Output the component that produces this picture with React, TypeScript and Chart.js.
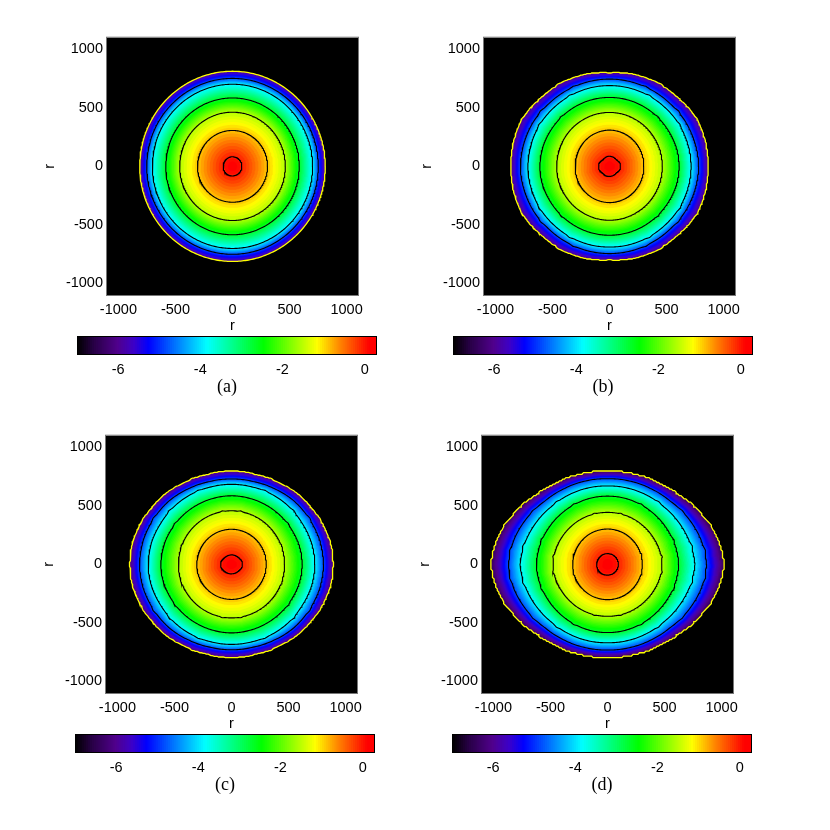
import React, { useEffect, useRef } from "react";
import { Chart, registerables } from "chart.js";

Chart.register(...registerables);

const axisTicks = [-1000, -500, 0, 500, 1000];
const colorbarTicks = [-6, -4, -2, 0];
const captions = ["(a)", "(b)", "(c)", "(d)"];
const contourLevels = [0, -0.85, -1.5, -2.65, -3.85, -4.8];
const edgeLevels = [-5.9, -6.0, -6.1, -6.4];
const centreValue = 0.3;
const sampleAngles = [0, 15, 30, 45, 60, 75, 90];

const radiiA = [
  [82, 82, 82, 82, 82, 82, 82],
  [307, 307, 307, 307, 307, 307, 307],
  [463, 463, 463, 463, 463, 463, 463],
  [585, 585, 585, 585, 585, 585, 585],
  [702, 702, 702, 702, 702, 702, 702],
  [752, 752, 752, 752, 752, 752, 752],
  [813, 813, 813, 813, 813, 813, 813],
];
const radiiB = [
  [94, 97, 88, 82, 84, 86, 86],
  [301, 302, 304, 306, 308, 309, 310],
  [463, 463, 462, 462, 461, 461, 461],
  [611, 607, 600, 595, 592, 590, 589],
  [716, 712, 708, 700, 695, 692, 690],
  [782, 775, 768, 755, 750, 747, 746],
  [864, 868, 862, 838, 828, 815, 800],
];
const radiiC = [
  [94, 96, 88, 84, 82, 81, 81],
  [305, 304, 303, 302, 301, 300, 300],
  [465, 465, 463, 461, 459, 458, 458],
  [620, 615, 605, 597, 590, 586, 586],
  [731, 725, 712, 705, 695, 686, 684],
  [807, 800, 785, 770, 748, 733, 730],
  [892, 885, 858, 838, 812, 798, 798],
];
const radiiD = [
  [96, 95, 94, 93, 93, 92, 92],
  [305, 305, 304, 303, 303, 302, 302],
  [477, 472, 462, 455, 450, 446, 444],
  [624, 615, 603, 594, 588, 585, 583],
  [767, 745, 720, 697, 684, 675, 670],
  [869, 845, 808, 770, 750, 738, 732],
  [1023, 985, 920, 860, 825, 805, 797],
];
const panelRadii = [radiiA, radiiB, radiiC, radiiD];

// [contour row, angle in degrees, radial kink]
const kinksA: number[][] = [];
const kinksB = [
  [6, 27, 8], [6, 58, 6], [5, 38, 8], [5, 65, 6], [4, 30, 7], [4, 60, 8], [3, 45, 7],
];
const kinksC = [
  [6, 27, 6], [6, 65, 5], [5, 30, 8], [4, 40, 8], [4, 65, 6], [3, 35, 7], [2, 20, 5], [2, 80, 6],
];
const kinksD = [
  [5, 8, 10], [5, 35, 6], [4, 12, 10], [4, 50, 7], [3, 20, 8], [3, 60, 7], [2, 8, 10], [2, 75, 6], [1, 15, 8],
];
const panelKinks = [kinksA, kinksB, kinksC, kinksD];
const edgeGrid = [0, 6, 6, 14];

const colorValues = [-7, -6.6, -6.03, -5.63, -5.27, -3.85, -2.47, -1.17, -0.6, 0.1, 0.3];
const colorReds = [0, 40, 80, 60, 0, 0, 0, 255, 255, 255, 255];
const colorGreens = [0, 0, 0, 0, 0, 255, 255, 255, 130, 0, 0];
const colorBlues = [0, 70, 140, 200, 255, 255, 0, 0, 0, 0, 0];

const plots = [
  { l: 107, r: 358, t: 37, b: 295, cl: 77, cr: 377, ct: 336, cb: 355 },
  { l: 484, r: 735, t: 37, b: 295, cl: 453, cr: 753, ct: 336, cb: 355 },
  { l: 106, r: 357, t: 435, b: 693, cl: 75, cr: 375, ct: 734, cb: 753 },
  { l: 482, r: 733, t: 435, b: 693, cl: 452, cr: 752, ct: 734, cb: 753 },
];

const sansFont = "'Liberation Sans', Arial, sans-serif";
const serifFont = "'Liberation Serif', serif";

function lerp(xs: number[], ys: number[], x: number) {
  if (x <= xs[0]) return ys[0];
  for (let i = 1; i < xs.length; i++) {
    if (x <= xs[i]) {
      const t = (x - xs[i - 1]) / (xs[i] - xs[i - 1]);
      return ys[i - 1] + t * (ys[i] - ys[i - 1]);
    }
  }
  return ys[ys.length - 1];
}

function colorAt(v: number) {
  const r = Math.round(lerp(colorValues, colorReds, v));
  const g = Math.round(lerp(colorValues, colorGreens, v));
  const b = Math.round(lerp(colorValues, colorBlues, v));
  return `rgb(${r},${g},${b})`;
}

function foldAngle(deg: number) {
  const d = ((deg % 360) + 360) % 360;
  if (d <= 90) return d;
  if (d <= 180) return 180 - d;
  if (d <= 270) return d - 180;
  return 360 - d;
}

function radiusAt(index: number, value: number, deg: number) {
  const a = foldAngle(deg);
  const table = panelRadii[index];
  const kinks = panelKinks[index];
  const vs = [centreValue, ...contourLevels, edgeLevels[index]].map((v) => -v);
  const rs = [
    0,
    ...table.map((row, rowIndex) => {
      let r = lerp(sampleAngles, row, a);
      for (const [kr, ka, kd] of kinks) {
        if (kr === rowIndex && Math.abs(a - ka) < 3) r += kd * (1 - Math.abs(a - ka) / 3);
      }
      return r;
    }),
  ];
  return lerp(vs, rs, -value);
}

function ring(index: number, value: number, step: number, grid = 0) {
  const pts: { x: number; y: number }[] = [];
  for (let d = 0; d <= 360; d += step) {
    const r = radiusAt(index, value, d);
    let x = r * Math.cos((d * Math.PI) / 180);
    let y = r * Math.sin((d * Math.PI) / 180);
    if (grid > 0) {
      x = Math.round(x / grid) * grid;
      y = Math.round(y / grid) * grid;
    }
    pts.push({ x, y });
  }
  return pts;
}

function panelDatasets(index: number) {
  const sets: any[] = [];
  const edge = edgeLevels[index];
  for (const level of [...contourLevels, edge]) {
    const outer = level === edge;
    sets.push({
      data: ring(index, level, 1, outer ? edgeGrid[index] : 0),
      showLine: true,
      fill: false,
      borderColor: outer ? "#ffff00" : "#000000",
      borderWidth: outer ? 1.3 : 1.1,
      pointRadius: 0,
      tension: 0,
    });
  }
  for (let v = 0.25; v > edge; v -= 0.1) {
    const color = colorAt(v);
    sets.push({
      data: ring(index, v, 2),
      showLine: true,
      fill: "shape",
      backgroundColor: color,
      borderColor: color,
      borderWidth: 0,
      pointRadius: 0,
      tension: 0,
    });
  }
  sets.push({
    data: ring(index, edge, 2),
    showLine: true,
    fill: "shape",
    backgroundColor: colorAt(edge),
    borderColor: colorAt(edge),
    borderWidth: 0,
    pointRadius: 0,
    tension: 0,
  });
  return sets;
}

function colorbarDatasets() {
  const sets: any[] = [];
  for (let i = 0; i < 146; i++) {
    const a = -7 + i * 0.05;
    sets.push({
      data: [[a, a + 0.055]],
      backgroundColor: colorAt(a + 0.025),
      borderWidth: 0,
      grouped: false,
      barPercentage: 1,
      categoryPercentage: 1,
    });
  }
  return sets;
}

const plotFrame = {
  id: "plotFrame",
  beforeDraw(chart: any) {
    const { ctx, chartArea: c } = chart;
    ctx.save();
    ctx.fillStyle = "#000";
    ctx.fillRect(c.left, c.top, c.right - c.left, c.bottom - c.top);
    ctx.strokeStyle = "#777";
    ctx.lineWidth = 1;
    ctx.strokeRect(c.left - 0.5, c.top - 0.5, c.right - c.left + 1, c.bottom - c.top + 1);
    ctx.restore();
  },
};

const barFrame = {
  id: "barFrame",
  afterDraw(chart: any) {
    const { ctx, chartArea: c } = chart;
    ctx.save();
    ctx.strokeStyle = "#000";
    ctx.lineWidth = 1;
    ctx.strokeRect(c.left + 0.5, c.top + 0.5, c.right - c.left - 1, c.bottom - c.top - 1);
    ctx.restore();
  },
};

const Y_AXIS_W = 66;
const X_AXIS_H = 40;
const PAD_T = 12;
const PAD_R = 20;
const BAR_PAD = 16;
const BAR_AXIS_H = 43;

function ticksOf(values: number[]) {
  return (scale: any) => {
    scale.ticks = values.map((value) => ({ value }));
  };
}

export default function App() {
  const panelRefs = useRef<(HTMLCanvasElement | null)[]>([]);
  const barRefs = useRef<(HTMLCanvasElement | null)[]>([]);

  useEffect(() => {
    const charts: Chart[] = [];
    plots.forEach((_, i) => {
      const tickFont = { family: sansFont, size: 14.5 };
      charts.push(
        new Chart(panelRefs.current[i]!, {
          type: "scatter",
          data: { datasets: panelDatasets(i) },
          plugins: [plotFrame],
          options: {
            animation: false,
            responsive: false,
            layout: { padding: { top: PAD_T, right: PAD_R, left: 0, bottom: 0 } },
            plugins: { legend: { display: false }, tooltip: { enabled: false } },
            scales: {
              x: {
                type: "linear",
                min: -1100,
                max: 1100,
                afterBuildTicks: ticksOf(axisTicks),
                afterFit: (s: any) => {
                  s.height = X_AXIS_H;
                },
                grid: { display: false, drawTicks: false },
                border: { display: false },
                ticks: {
                  padding: 6,
                  maxRotation: 0,
                  autoSkip: false,
                  color: "#000",
                  font: tickFont,
                  callback: (v: any) => String(v),
                },
                title: { display: true, text: "r", color: "#000", font: tickFont, padding: 0 },
              },
              y: {
                type: "linear",
                min: -1100,
                max: 1100,
                afterBuildTicks: ticksOf(axisTicks),
                afterFit: (s: any) => {
                  s.width = Y_AXIS_W;
                },
                grid: { display: false, drawTicks: false },
                border: { display: false },
                ticks: {
                  padding: 4,
                  autoSkip: false,
                  color: "#000",
                  font: tickFont,
                  callback: (v: any) => String(v),
                },
                title: { display: true, text: "r", color: "#000", font: tickFont, padding: 0 },
              },
            },
          },
        } as any)
      );
      charts.push(
        new Chart(barRefs.current[i]!, {
          type: "bar",
          data: { labels: [""], datasets: colorbarDatasets() },
          plugins: [barFrame],
          options: {
            indexAxis: "y",
            animation: false,
            responsive: false,
            layout: { padding: { top: 2, left: BAR_PAD, right: BAR_PAD, bottom: 0 } },
            plugins: { legend: { display: false }, tooltip: { enabled: false } },
            scales: {
              y: { display: false, grid: { display: false } },
              x: {
                type: "linear",
                min: -7,
                max: 0.3,
                afterBuildTicks: ticksOf(colorbarTicks),
                afterFit: (s: any) => {
                  s.height = BAR_AXIS_H;
                },
                grid: { display: false, drawTicks: false },
                border: { display: false },
                ticks: {
                  padding: 6,
                  maxRotation: 0,
                  autoSkip: false,
                  color: "#000",
                  font: tickFont,
                  callback: (v: any) => String(v),
                },
                title: {
                  display: true,
                  text: captions[i],
                  color: "#000",
                  font: { family: serifFont, size: 18 },
                  padding: 0,
                },
              },
            },
          },
        } as any)
      );
    });
    return () => charts.forEach((c) => c.destroy());
  }, []);

  return (
    <div style={{ position: "absolute", left: 0, top: 0, width: 830, height: 830, overflow: "hidden", background: "#fff" }}>
      {plots.map((p, i) => (
        <React.Fragment key={i}>
          <canvas
            ref={(el) => {
              panelRefs.current[i] = el;
            }}
            width={Y_AXIS_W + (p.r - p.l) + PAD_R}
            height={PAD_T + (p.b - p.t) + X_AXIS_H}
            style={{ position: "absolute", left: p.l - Y_AXIS_W, top: p.t - PAD_T }}
          />
          <canvas
            ref={(el) => {
              barRefs.current[i] = el;
            }}
            width={p.cr - p.cl + 2 * BAR_PAD}
            height={p.cb - p.ct + 2 + BAR_AXIS_H}
            style={{ position: "absolute", left: p.cl - BAR_PAD, top: p.ct - 2 }}
          />
        </React.Fragment>
      ))}
    </div>
  );
}
